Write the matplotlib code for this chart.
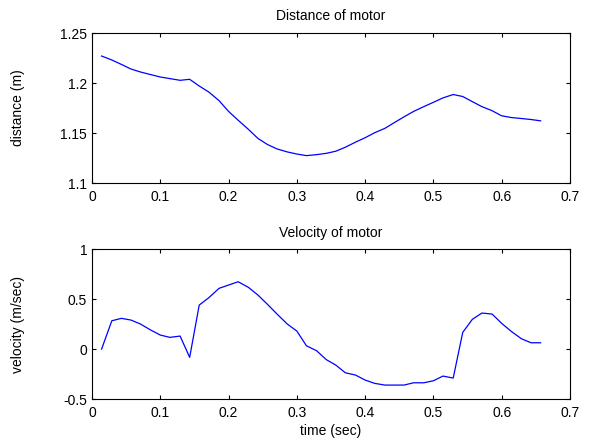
import numpy as np
import matplotlib.pyplot as plt

plt.rcParams['font.family'] = ['Liberation Sans', 'DejaVu Sans']
plt.rcParams['font.size'] = 10

# sample times (sec)
time = [0.014, 0.029, 0.043, 0.057, 0.071, 0.086, 0.100, 0.114, 0.129, 0.143,
        0.157, 0.171, 0.186, 0.200, 0.214, 0.229, 0.243, 0.257, 0.271, 0.286,
        0.300, 0.314, 0.329, 0.343, 0.357, 0.371, 0.386, 0.400, 0.414, 0.429,
        0.443, 0.457, 0.471, 0.486, 0.500, 0.514, 0.529, 0.543, 0.557, 0.571,
        0.586, 0.600, 0.614, 0.629, 0.643, 0.657]

# motor distance (m)
distance = [1.227, 1.223, 1.2186, 1.214, 1.211, 1.2084, 1.206, 1.2044, 1.2027, 1.2037,
            1.197, 1.191, 1.1824, 1.1716, 1.1628, 1.1537, 1.1446, 1.1385, 1.1341, 1.1311,
            1.129, 1.1274, 1.1284, 1.1297, 1.1318, 1.1358, 1.1409, 1.1453, 1.1503, 1.1547,
            1.1605, 1.1662, 1.1716, 1.1764, 1.1807, 1.1851, 1.1885, 1.1865, 1.1814, 1.1764,
            1.1723, 1.1672, 1.1655, 1.1645, 1.1635, 1.1622]

# motor velocity (m/sec)
velocity = [0.0, 0.283, 0.307, 0.29, 0.25, 0.19, 0.14, 0.117, 0.13, -0.083,
            0.44, 0.513, 0.607, 0.64, 0.673, 0.617, 0.54, 0.447, 0.35, 0.25,
            0.18, 0.033, -0.017, -0.105, -0.16, -0.237, -0.26, -0.31, -0.343, -0.36,
            -0.36, -0.36, -0.337, -0.337, -0.317, -0.27, -0.29, 0.167, 0.297, 0.36,
            0.35, 0.257, 0.177, 0.103, 0.063, 0.063]

fig = plt.figure(figsize=(5.9, 4.4), dpi=100)
ax1 = fig.add_axes([0.156, 0.584, 0.810, 0.341])
ax2 = fig.add_axes([0.156, 0.093, 0.810, 0.341])

ax1.plot(time, distance, color='blue', linewidth=0.9)
ax1.set_xlim(0, 0.7)
ax1.set_ylim(1.1, 1.25)
ax1.set_yticks([1.1, 1.15, 1.2, 1.25])
ax1.set_yticklabels(['1.1', '1.15', '1.2', '1.25'])
ax1.set_title('Distance of motor', fontsize=10, pad=9.5)
ax1.set_ylabel('distance (m)')

ax2.plot(time, velocity, color='blue', linewidth=0.9)
ax2.set_xlim(0, 0.7)
ax2.set_ylim(-0.5, 1)
ax2.set_yticks([-0.5, 0, 0.5, 1])
ax2.set_yticklabels(['-0.5', '0', '0.5', '1'])
ax2.set_title('Velocity of motor', fontsize=10, pad=9)
ax2.set_ylabel('velocity (m/sec)')
ax2.set_xlabel('time (sec)', labelpad=3)

for ax in (ax1, ax2):
    ax.set_xticks(np.arange(0, 0.71, 0.1))
    ax.set_xticklabels(['0', '0.1', '0.2', '0.3', '0.4', '0.5', '0.6', '0.7'])
    ax.tick_params(direction='in', top=True, right=True, length=3, width=0.8)
    ax.tick_params(axis='y', pad=3.5)
    ax.tick_params(axis='x', pad=5)
    ax.yaxis.set_label_coords(-0.14, 0.5)
    for s in ax.spines.values():
        s.set_linewidth(0.8)

fig.savefig('out.png', dpi=100)
